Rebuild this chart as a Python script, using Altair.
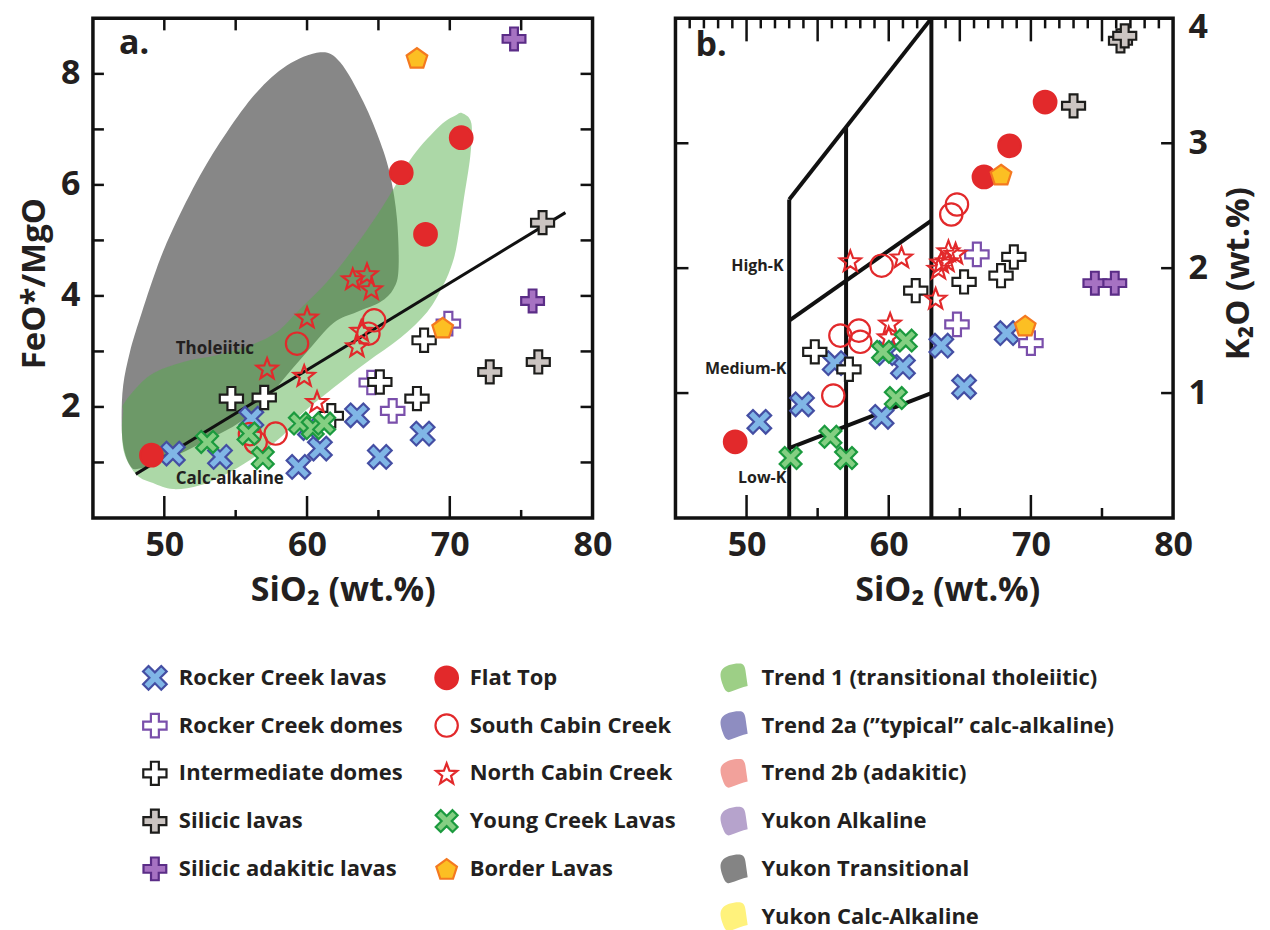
import math
import altair as alt
import pandas as pd

# ---------------------------------------------------------------- data
GROUPS = ["Rocker Creek lavas", "Rocker Creek domes", "Intermediate domes", "Silicic lavas",
          "Silicic adakitic lavas", "Flat Top", "South Cabin Creek", "North Cabin Creek",
          "Young Creek Lavas", "Border Lavas"]
TRENDS = ["Trend 1 (transitional tholeiitic)", "Trend 2a (\u201dtypical\u201d calc-alkaline)",
          "Trend 2b (adakitic)", "Yukon Alkaline", "Yukon Transitional", "Yukon Calc-Alkaline"]
TREND_COLORS = ["#9dcf86", "#8e8dc1", "#f2a19b", "#b6a3cc", "#848484", "#fff27c"]

# panel a : SiO2 vs FeO*/MgO
a_rcl_x = [50.6, 53.9, 56.1, 59.4, 60.9, 60.2, 63.5, 65.1, 68.1]
a_rcl_y = [1.16, 1.10, 1.79, 0.92, 1.25, 1.62, 1.85, 1.10, 1.52]
a_rcd_x = [69.9, 64.5, 66.0]
a_rcd_y = [3.50, 2.44, 1.93]
a_imd_x = [68.2, 65.1, 67.7, 61.7, 54.7, 57.0]
a_imd_y = [3.20, 2.45, 2.15, 1.84, 2.15, 2.17]
a_sl_x = [76.5, 72.8, 76.2]
a_sl_y = [5.32, 2.63, 2.81]
a_sal_x = [74.5, 75.8]
a_sal_y = [8.63, 3.91]
a_ft_x = [49.1, 66.6, 68.3, 70.8]
a_ft_y = [1.13, 6.22, 5.11, 6.85]
a_scc_x = [59.3, 64.7, 64.3, 56.0, 56.4, 57.8]
a_scc_y = [3.14, 3.56, 3.32, 1.51, 1.36, 1.52]
a_ncc_x = [63.2, 64.2, 64.5, 60.0, 63.8, 63.5, 57.2, 59.8, 60.7]
a_ncc_y = [4.31, 4.40, 4.13, 3.62, 3.38, 3.10, 2.70, 2.57, 2.10]
a_ycl_x = [53.0, 55.9, 56.9, 59.5, 60.4, 61.2]
a_ycl_y = [1.37, 1.52, 1.08, 1.70, 1.62, 1.70]
a_bl_x = [67.7, 69.5]
a_bl_y = [8.29, 3.43]

# panel b : SiO2 vs K2O
b_rcl_x = [50.9, 53.9, 56.2, 61.0, 59.5, 59.8, 63.7, 65.3, 68.3]
b_rcl_y = [0.77, 0.91, 1.24, 1.21, 0.81, 1.32, 1.38, 1.05, 1.48]
b_rcd_x = [66.2, 64.8, 70.0]
b_rcd_y = [2.11, 1.55, 1.40]
b_imd_x = [68.8, 67.9, 65.3, 61.9, 54.8, 57.2]
b_imd_y = [2.09, 1.94, 1.89, 1.82, 1.33, 1.19]
b_sl_x = [76.3, 76.6, 73.0]
b_sl_y = [3.82, 3.86, 3.30]
b_sal_x = [74.5, 75.9]
b_sal_y = [1.88, 1.88]
b_ft_x = [49.2, 66.7, 68.5, 71.0]
b_ft_y = [0.61, 2.73, 2.98, 3.33]
b_scc_x = [64.8, 64.4, 59.5, 56.6, 57.9, 58.0, 56.1]
b_scc_y = [2.51, 2.43, 2.02, 1.46, 1.50, 1.41, 0.98]
b_ncc_x = [57.3, 60.9, 64.2, 64.7, 63.7, 63.5, 64.1, 63.3, 60.1, 60.0]
b_ncc_y = [2.06, 2.09, 2.14, 2.12, 2.05, 2.00, 2.06, 1.76, 1.56, 1.45]
b_ycl_x = [53.1, 55.9, 57.0, 60.5, 59.6, 61.2]
b_ycl_y = [0.48, 0.65, 0.48, 0.96, 1.33, 1.42]
b_bl_x = [67.9, 69.6]
b_bl_y = [2.75, 1.54]

# panel a fields
gray_x = [60.92, 62.32, 63.96, 65.13, 65.83, 66.30, 66.41, 66.06, 65.13, 63.49, 61.85, 59.99,
          58.58, 57.18, 55.31, 53.20, 50.87, 48.30, 47.59, 47.12, 47.01, 47.12, 47.59, 48.30,
          49.47, 50.63, 52.50, 54.38, 56.48, 58.58]
gray_y = [8.39, 8.21, 7.49, 6.77, 6.17, 5.39, 4.49, 4.13, 3.89, 3.71, 3.51, 2.99,
          2.57, 2.15, 1.73, 1.43, 1.13, 0.89, 0.95, 1.31, 1.80, 2.39, 2.99, 3.60,
          4.50, 5.22, 6.17, 6.95, 7.67, 8.15]
green_x = [70.88, 71.51, 71.44, 70.95, 70.53, 70.18, 69.54, 68.42, 66.53, 64.21, 61.83, 59.52,
           58.32, 56.50, 54.61, 52.50, 50.61, 49.21, 48.09, 47.24, 47.03, 47.12, 47.24, 49.00,
           51.33, 53.67, 56.01, 57.88, 59.52, 61.39, 63.25, 64.89, 66.06, 67.44, 69.33, 70.39]
green_y = [7.29, 7.11, 6.53, 5.69, 4.97, 4.59, 4.19, 3.71, 3.24, 2.81, 2.34, 1.85,
           1.49, 1.13, 0.83, 0.59, 0.52, 0.63, 0.77, 1.13, 1.55, 1.91, 2.09, 2.57,
           2.81, 2.93, 3.11, 3.35, 3.77, 4.25, 4.85, 5.45, 5.93, 6.53, 7.07, 7.25]
reg_x = [48.0, 78.1]
reg_y = [0.79, 5.50]

# panel b K2O field boundaries
bnd_seg = ["v53", "v53", "v57", "v57", "v63", "v63", "top", "top", "hm", "hm", "ml", "ml"]
bnd_x = [53, 53, 57, 57, 63, 63, 53, 63, 53, 63, 53, 63]
bnd_y = [0, 2.55, 0, 3.13, 0, 4.0, 2.55, 4.0, 1.58, 2.38, 0.56, 1.00]
field_labels = ["High-K", "Medium-K", "Low-K"]
field_lab_x = [52.6, 52.8, 52.8]
field_lab_y = [2.02, 1.19, 0.32]

# ticks / labels
x_labels = [50, 60, 70, 80]
a_y_labels = [2, 4, 6, 8]
b_y_labels = [1, 2, 3, 4]
a_y_ticks = [1, 2, 3, 4, 5, 6, 7, 8]
b_y_ticks = [1, 2, 3]
x_major5 = [50, 55, 60, 65, 70, 75]
x_major10 = [50, 60, 70]
x_minor5 = [55, 65, 75]
b_top_minor = [v for v in range(46, 80) if v % 5 != 0]

# ---------------------------------------------------------------- styles
FONT = "Open Sans"
INK = "#231f20"
W_A, W_B, H = 500, 498, 500


def _path(pts):
    return "M" + "L".join(f"{x:.3f},{y:.3f}" for x, y in pts) + "Z"


def plus_pts(w):
    return [(-w, -1), (w, -1), (w, -w), (1, -w), (1, w), (w, w), (w, 1), (-w, 1),
            (-w, w), (-1, w), (-1, -w), (-w, -w)]


PLUS = _path(plus_pts(0.34))
_r = [((x - y) / math.sqrt(2), (x + y) / math.sqrt(2)) for x, y in plus_pts(0.3)]
_m = max(max(abs(a), abs(b)) for a, b in _r)
XSYM = _path([(a / _m, b / _m) for a, b in _r])
STAR = _path([((1 if i % 2 == 0 else 0.42) * math.cos(math.radians(-90 + 36 * i)),
               (1 if i % 2 == 0 else 0.42) * math.sin(math.radians(-90 + 36 * i)) + 0.1)
              for i in range(10)])
PENT = _path([(math.cos(math.radians(-90 + 72 * i)), math.sin(math.radians(-90 + 72 * i)) + 0.1)
              for i in range(5)])
BLOB = ("M-0.75,-0.55C-0.55,-0.85 0.1,-1 0.5,-0.95C0.75,-0.9 0.8,-0.6 0.83,-0.3"
        "L0.95,0.55C0.6,0.62 0.2,0.8 -0.25,0.95C-0.45,1 -0.6,0.8 -0.7,0.5"
        "C-0.85,0.1 -0.95,-0.3 -0.75,-0.55Z")

SHAPES = [XSYM, PLUS, PLUS, PLUS, PLUS, "circle", "circle", STAR, XSYM, PENT]
FILLS = ["#80b6e6", "#ffffff", "#ffffff", "#cbc4c1", "#a672c2", "#e2292b",
         "transparent", "transparent", "#84cf82", "#fcbf23"]
STROKES = ["#444ea3", "#7a4fab", "#1d1d1b", "#1d1d1b", "#5b2d87", "#e2292b",
           "#e2292b", "#e2292b", "#1b9a3e", "#f47920"]
SIZES = [560, 470, 470, 470, 470, 420, 450, 900, 560, 560]


def frame(series):
    rows = []
    for g, (xs_, ys_) in zip(GROUPS, series):
        for x, y in zip(xs_, ys_):
            rows.append({"group": g, "x": x, "y": y})
    return pd.DataFrame(rows)


df_a = frame([(a_rcl_x, a_rcl_y), (a_rcd_x, a_rcd_y), (a_imd_x, a_imd_y), (a_sl_x, a_sl_y),
              (a_sal_x, a_sal_y), (a_ft_x, a_ft_y), (a_scc_x, a_scc_y), (a_ncc_x, a_ncc_y),
              (a_ycl_x, a_ycl_y), (a_bl_x, a_bl_y)])
df_b = frame([(b_rcl_x, b_rcl_y), (b_rcd_x, b_rcd_y), (b_imd_x, b_imd_y), (b_sl_x, b_sl_y),
              (b_sal_x, b_sal_y), (b_ft_x, b_ft_y), (b_scc_x, b_scc_y), (b_ncc_x, b_ncc_y),
              (b_ycl_x, b_ycl_y), (b_bl_x, b_bl_y)])


def sym_enc():
    return dict(
        shape=alt.Shape("group:N", scale=alt.Scale(domain=GROUPS, range=SHAPES), legend=None),
        fill=alt.Fill("group:N", scale=alt.Scale(domain=GROUPS, range=FILLS), legend=None),
        stroke=alt.Stroke("group:N", scale=alt.Scale(domain=GROUPS, range=STROKES), legend=None),
        size=alt.Size("group:N", scale=alt.Scale(domain=GROUPS, range=SIZES), legend=None),
    )


LAB = dict(labelFont=FONT, labelFontSize=34, labelFontWeight="bold", labelColor=INK,
           ticks=False, domain=False, grid=False, labelOverlap=False)
TTL = dict(titleFont=FONT, titleFontWeight="bold", titleColor=INK,
           titleBaseline="middle", titleAlign="center")

xs = alt.Scale(domain=[45, 80], nice=False, zero=False)
ys_a = alt.Scale(domain=[0, 9], nice=False, zero=False)
ys_b = alt.Scale(domain=[0, 4], nice=False, zero=False)

xax_a = alt.Axis(values=x_labels, labelPadding=11, labelFlush=False, title="SiO\u2082 (wt.%)",
                 titleFontSize=34, titleX=250, titleY=73, titleAngle=0, **LAB, **TTL)
xax_b = alt.Axis(values=x_labels, labelPadding=11, labelFlush=False, title="SiO\u2082 (wt.%)",
                 titleFontSize=34, titleX=272, titleY=73, titleAngle=0, **LAB, **TTL)
yax_a = alt.Axis(values=a_y_labels, labelPadding=13, labelFlush=False, title="FeO*/MgO",
                 titleFontSize=33, titleX=-58, titleY=265, titleAngle=270, **LAB, **TTL)
yax_b = alt.Axis(values=b_y_labels, orient="right", labelPadding=15, labelFlush=True,
                 labelFlushOffset=8, title="K\u2082O (wt.%)", titleFontSize=33,
                 titleX=65, titleY=255, titleAngle=270, **LAB, **TTL)


def X(f, ax):
    return alt.X(f, type="quantitative", scale=xs, axis=ax)


def Y(f, sc, ax):
    return alt.Y(f, type="quantitative", scale=sc, axis=ax)


def tick_rules(vals, axis_ch, px0, px1, sc, ax):
    d = pd.DataFrame({"v": vals})
    base = alt.Chart(d).mark_rule(color="#111111", strokeWidth=2.5)
    if axis_ch == "y":
        return base.encode(y=Y("v", sc, ax), x=alt.value(px0), x2=alt.value(px1))
    return base.encode(x=X("v", ax), y=alt.value(px0), y2=alt.value(px1))


# ---------------------------------------------------------------- panel a
gray_df = pd.DataFrame({"x": gray_x, "y": gray_y, "i": range(len(gray_x))})
green_df = pd.DataFrame({"x": green_x, "y": green_y, "i": range(len(green_x))})
reg_df = pd.DataFrame({"x": reg_x, "y": reg_y})

gray_layer = alt.Chart(gray_df).mark_line(
    interpolate="cardinal-closed", filled=True, color="#878787", fill="#878787",
    fillOpacity=1, strokeOpacity=0).encode(
    x=X("x", xax_a), y=Y("y", ys_a, yax_a), order=alt.Order("i:Q"))
green_layer = alt.Chart(green_df).mark_line(
    interpolate="cardinal-closed", filled=True, color="#52ad48", fill="#52ad48",
    fillOpacity=0.48, strokeOpacity=0).encode(
    x=X("x", xax_a), y=Y("y", ys_a, yax_a), order=alt.Order("i:Q"))
reg_layer = alt.Chart(reg_df).mark_line(color="#111111", strokeWidth=3).encode(
    x=X("x", xax_a), y=Y("y", ys_a, yax_a))
ann_a = alt.Chart(pd.DataFrame({"t": ["Tholeiitic", "Calc-alkaline"],
                                "x": [50.8, 50.8], "y": [3.05, 0.71]})).mark_text(
    font=FONT, fontSize=17, fontWeight="bold", color=INK, align="left", baseline="middle").encode(
    x=X("x", xax_a), y=Y("y", ys_a, yax_a), text="t:N")
tag_a = alt.Chart(pd.DataFrame({"t": ["a."]})).mark_text(
    font=FONT, fontSize=34, fontWeight="bold", color=INK, align="left",
    baseline="alphabetic").encode(x=alt.value(26), y=alt.value(36), text="t:N")
pts_a = alt.Chart(df_a).mark_point(filled=True, opacity=1, strokeWidth=2.2).encode(
    x=X("x", xax_a), y=Y("y", ys_a, yax_a), **sym_enc())

panel_a = alt.layer(
    gray_layer, green_layer,
    tick_rules(a_y_ticks, "y", 0, 11, ys_a, yax_a),
    tick_rules(a_y_ticks, "y", W_A - 12, W_A, ys_a, yax_a),
    tick_rules(x_major5, "x", 0, 12, ys_a, xax_a),
    tick_rules(x_major10, "x", H - 22, H, ys_a, xax_a),
    tick_rules(x_minor5, "x", H - 8, H, ys_a, xax_a),
    reg_layer, ann_a, tag_a, pts_a,
).properties(width=W_A, height=H,
             view=alt.ViewBackground(stroke="#111111", strokeWidth=3.5))

# ---------------------------------------------------------------- panel b
bnd_df = pd.DataFrame({"seg": bnd_seg, "x": bnd_x, "y": bnd_y, "k": range(len(bnd_x))})
bnd_layer = alt.Chart(bnd_df).mark_line(color="#111111", strokeWidth=4).encode(
    x=X("x", xax_b), y=Y("y", ys_b, yax_b), detail="seg:N", order=alt.Order("k:Q"))
lab_b = alt.Chart(pd.DataFrame({"t": field_labels, "x": field_lab_x, "y": field_lab_y})).mark_text(
    font=FONT, fontSize=16, fontWeight="bold", color=INK, align="right", baseline="middle").encode(
    x=X("x", xax_b), y=Y("y", ys_b, yax_b), text="t:N")
tag_b = alt.Chart(pd.DataFrame({"t": ["b."]})).mark_text(
    font=FONT, fontSize=34, fontWeight="bold", color=INK, align="left",
    baseline="alphabetic").encode(x=alt.value(20), y=alt.value(38), text="t:N")
pts_b = alt.Chart(df_b).mark_point(filled=True, opacity=1, strokeWidth=2.2).encode(
    x=X("x", xax_b), y=Y("y", ys_b, yax_b), **sym_enc())

panel_b = alt.layer(
    tick_rules(b_y_ticks, "y", 0, 13, ys_b, yax_b),
    tick_rules(b_y_ticks, "y", W_B - 12, W_B, ys_b, yax_b),
    tick_rules(x_major5, "x", 0, 23, ys_b, xax_b),
    tick_rules(b_top_minor, "x", 0, 10, ys_b, xax_b),
    tick_rules(x_major10, "x", H - 23, H, ys_b, xax_b),
    tick_rules(x_minor5, "x", H - 10, H, ys_b, xax_b),
    bnd_layer, lab_b, tag_b, pts_b,
).properties(width=W_B, height=H,
             view=alt.ViewBackground(stroke="#111111", strokeWidth=3.5))

# ---------------------------------------------------------------- legend
LW, LH = 1060, 262
ROW0, ROW_H = 36, 47.8
ICON_X = [62, 354, 641]
TEXT_X = [86, 377, 669]

leg_rows = []
for ci, names in enumerate([GROUPS[:5], GROUPS[5:]]):
    for ri, n in enumerate(names):
        leg_rows.append({"group": n, "ix": ICON_X[ci], "tx": TEXT_X[ci], "y": ROW0 + ri * ROW_H})
leg_df = pd.DataFrame(leg_rows)
trend_df = pd.DataFrame({"trend": TRENDS, "color": TREND_COLORS,
                         "ix": [ICON_X[2]] * len(TRENDS),
                         "tx": [TEXT_X[2]] * len(TRENDS),
                         "y": [ROW0 + i * ROW_H for i in range(len(TRENDS))]})

lx = alt.Scale(domain=[0, LW], nice=False, zero=False)
ly = alt.Scale(domain=[LH, 0], nice=False, zero=False)

leg_pts = alt.Chart(leg_df).mark_point(filled=True, opacity=1, strokeWidth=2.2).encode(
    x=alt.X("ix:Q", scale=lx, axis=None), y=alt.Y("y:Q", scale=ly, axis=None), **sym_enc())
leg_txt = alt.Chart(leg_df).mark_text(
    font=FONT, fontSize=22, fontWeight="bold", color=INK, align="left", baseline="middle").encode(
    x=alt.X("tx:Q", scale=lx, axis=None), y=alt.Y("y:Q", scale=ly, axis=None), text="group:N")
trend_sw = alt.Chart(trend_df).mark_point(filled=True, opacity=1, shape=BLOB, size=900,
                                          strokeWidth=0).encode(
    x=alt.X("ix:Q", scale=lx, axis=None), y=alt.Y("y:Q", scale=ly, axis=None),
    fill=alt.Fill("color:N", scale=None, legend=None))
trend_txt = alt.Chart(trend_df).mark_text(
    font=FONT, fontSize=22, fontWeight="bold", color=INK, align="left", baseline="middle").encode(
    x=alt.X("tx:Q", scale=lx, axis=None), y=alt.Y("y:Q", scale=ly, axis=None), text="trend:N")

legend = alt.layer(leg_pts, leg_txt, trend_sw, trend_txt).properties(
    width=LW, height=LH, view=alt.ViewBackground(strokeOpacity=0))

chart = alt.vconcat(
    alt.hconcat(panel_a, panel_b, spacing=58),
    legend,
    spacing=32,
).properties(padding={"left": 9, "top": 0, "right": 5, "bottom": 0}).configure_view(
    stroke="#111111", strokeWidth=3.5)

chart.save("out.html", embed_options={"renderer": "svg", "actions": False})
